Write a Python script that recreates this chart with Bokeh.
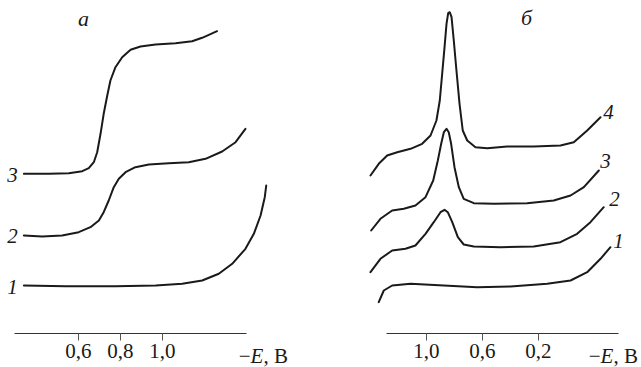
from bokeh.plotting import figure
from bokeh.layouts import row
from bokeh.models import Range1d, FixedTicker, Label, LinearAxis
from bokeh.embed import file_html
from bokeh.resources import INLINE

# ---------- data (potential -E, V ; current, arbitrary units) ----------
# panel a: polarograms
E_a1 = [0.340, 0.538, 0.776, 0.967, 1.094, 1.189, 1.268, 1.332, 1.395, 1.435, 1.467, 1.487, 1.494]
I_a1 = [4.80, 4.73, 4.73, 4.80, 4.97, 5.30, 5.97, 6.97, 8.47, 9.97, 11.80, 13.63, 14.80]

E_a2 = [0.340, 0.427, 0.522, 0.601, 0.657, 0.697, 0.720, 0.744, 0.768, 0.792, 0.824, 0.871,
        0.935, 1.030, 1.125, 1.205, 1.284, 1.348, 1.395]
I_a2 = [9.80, 9.70, 9.80, 10.13, 10.63, 11.30, 12.13, 13.30, 14.63, 15.47, 16.13, 16.63,
        16.90, 17.03, 17.13, 17.47, 18.20, 19.13, 20.47]

E_a3 = [0.340, 0.459, 0.554, 0.618, 0.649, 0.673, 0.689, 0.705, 0.720, 0.737, 0.752, 0.776,
        0.808, 0.848, 0.895, 0.967, 1.062, 1.141, 1.189, 1.260]
I_a3 = [15.97, 15.97, 16.03, 16.23, 16.53, 17.13, 18.13, 19.97, 21.97, 23.80, 25.30, 26.63,
        27.63, 28.37, 28.70, 28.90, 29.03, 29.23, 29.57, 30.23]

# panel b: differential curves
E_b1 = [1.341, 1.305, 1.245, 1.114, 0.876, 0.638, 0.400, 0.138, -0.029, -0.148, -0.243, -0.314]
I_b1 = [3.13, 4.30, 4.80, 4.97, 4.80, 4.63, 4.70, 4.97, 5.30, 6.13, 7.47, 8.63]

E_b2 = [1.400, 1.329, 1.245, 1.150, 1.079, 1.007, 0.948, 0.900, 0.871, 0.848, 0.816, 0.776,
        0.734, 0.662, 0.471, 0.234, 0.043, -0.076, -0.171, -0.266]
I_b2 = [6.13, 7.47, 8.30, 8.47, 8.80, 9.97, 11.13, 12.13, 12.37, 12.13, 11.13, 9.63,
        8.90, 8.70, 8.63, 8.70, 9.13, 9.97, 11.13, 12.63]

E_b3 = [1.395, 1.329, 1.245, 1.162, 1.079, 1.007, 0.952, 0.919, 0.895, 0.876, 0.857, 0.841,
        0.824, 0.800, 0.769, 0.734, 0.662, 0.519, 0.281, 0.091, -0.029, -0.124, -0.231]
I_b3 = [10.30, 11.47, 12.30, 12.47, 12.80, 13.63, 15.30, 17.30, 18.97, 20.13, 20.47, 20.13,
        18.97, 16.63, 14.63, 13.47, 13.03, 12.97, 13.03, 13.30, 13.80, 14.63, 16.30]

E_b4 = [1.400, 1.341, 1.281, 1.209, 1.114, 1.031, 0.971, 0.929, 0.905, 0.888, 0.871, 0.857,
        0.845, 0.834, 0.821, 0.805, 0.786, 0.764, 0.741, 0.709, 0.650, 0.566, 0.424, 0.234,
        0.043, -0.052, -0.148, -0.243]
I_b4 = [15.80, 16.97, 17.80, 18.13, 18.47, 18.97, 19.80, 21.30, 23.30, 25.97, 28.63, 30.97,
        32.03, 32.13, 31.63, 29.30, 26.30, 22.97, 20.30, 19.30, 18.63, 18.53, 18.70, 18.70,
        18.80, 19.13, 20.30, 21.63]

ticks_a = [0.6, 0.8, 1.0]
tick_labels_a = ["0,6", "0,8", "1,0"]
ticks_b = [1.0, 0.6, 0.2]
tick_labels_b = ["1,0", "0,6", "0,2"]

curve_names_a = ["1", "2", "3"]
label_E_a = [0.286, 0.286, 0.286]
label_I_a = [4.7, 9.8, 15.9]

curve_names_b = ["1", "2", "3", "4"]
label_E_b = [-0.371, -0.343, -0.279, -0.300]
label_I_b = [9.3, 13.5, 17.3, 22.2]

SERIF = "Liberation Serif, Times New Roman, serif"
INK = "#1a1a1a"
H = 367


def make_panel(width, xr, bounds, ticks, tick_labels, curves, names, lx, ly,
               panel_letter, letter_pos, unit_x):
    p = figure(width=width, height=H, output_backend="svg", toolbar_location=None,
               x_range=xr, y_range=Range1d(-3.4, 33.3), x_axis_location=None,
               y_axis_location=None, min_border=0, outline_line_color=None,
               background_fill_color="white", border_fill_color="white")
    p.grid.visible = False
    ax = LinearAxis(fixed_location=0.0, bounds=bounds, ticker=FixedTicker(ticks=ticks))
    ax.major_label_overrides = {t: s for t, s in zip(ticks, tick_labels)}
    ax.minor_tick_line_color = None
    ax.major_tick_in = 0
    ax.major_tick_out = 7
    ax.major_tick_line_color = "#555555"
    ax.axis_line_color = "#333333"
    ax.axis_line_width = 1
    ax.major_label_standoff = 3
    ax.major_label_text_font = SERIF
    ax.major_label_text_font_size = "21px"
    ax.major_label_text_color = INK
    p.add_layout(ax, "below")

    for E, I in curves:
        p.line(E, I, line_color=INK, line_width=2, line_join="round", line_cap="round")

    for n, x, y in zip(names, lx, ly):
        p.add_layout(Label(x=x, y=y, text=n, text_font=SERIF, text_font_style="italic",
                           text_font_size="21px", text_color=INK, text_align="center",
                           text_baseline="middle"))
    p.add_layout(Label(x=letter_pos[0], y=letter_pos[1], text=panel_letter, text_font=SERIF,
                       text_font_style="italic", text_font_size="22px", text_color=INK,
                       text_align="center", text_baseline="middle"))
    # axis caption "-E, B"
    uy = -2.2
    p.add_layout(Label(x=unit_x, y=uy, text="\u2212", text_font=SERIF, text_font_size="21px",
                       text_color=INK, text_align="right", text_baseline="middle"))
    p.add_layout(Label(x=unit_x, y=uy, text="E", text_font=SERIF, text_font_style="italic",
                       text_font_size="21px", text_color=INK, text_align="left",
                       text_baseline="middle"))
    p.add_layout(Label(x=unit_x, y=uy, x_offset=13, text=", \u0412", text_font=SERIF,
                       text_font_size="21px", text_color=INK, text_align="left",
                       text_baseline="middle"))
    return p


pa = make_panel(320, Range1d(0.2286, 1.7524), (0.295, 1.4), ticks_a, tick_labels_a,
                [(E_a1, I_a1), (E_a2, I_a2), (E_a3, I_a3)],
                curve_names_a, label_E_a, label_I_a, "\u0430", (0.624, 31.5), 1.419)
pb = make_panel(321, Range1d(1.757, -0.5357), (-0.371, 1.286), ticks_b, tick_labels_b,
                [(E_b1, I_b1), (E_b2, I_b2), (E_b3, I_b3), (E_b4, I_b4)],
                curve_names_b, label_E_b, label_I_b, "\u0431", (0.286, 31.6), -0.243)

layout = row(pa, pb)
open("out.html", "w").write(file_html(layout, INLINE))
